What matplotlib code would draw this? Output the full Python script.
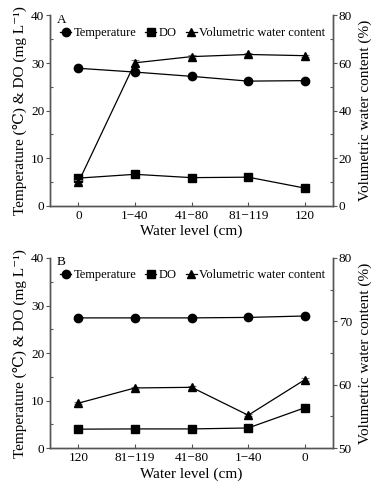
import matplotlib
matplotlib.use("Agg")
import matplotlib.pyplot as plt
from matplotlib.ticker import MultipleLocator
from matplotlib.lines import Line2D

plt.rcParams['font.family'] = ['Liberation Serif', 'DejaVu Serif']

cats_a = ["0", "1\u221240", "41\u221280", "81\u2212119", "120"]
temp_a = [28.9, 28.1, 27.2, 26.2, 26.3]
do_a = [5.8, 6.6, 5.9, 6.0, 3.7]
vwc_a = [9.8, 60.1, 62.7, 63.6, 63.1]
vwc_err_a = [0.8, 1.3, 0.5, 0.5, 0.4]

cats_b = ["120", "81\u2212119", "41\u221280", "1\u221240", "0"]
temp_b = [27.4, 27.4, 27.4, 27.5, 27.8]
do_b = [4.0, 4.05, 4.05, 4.25, 8.5]
vwc_b = [57.1, 59.5, 59.6, 55.2, 60.8]
vwc_err_b = [0.2, 0.2, 0.2, 0.2, 0.2]

W, H = 379, 484
fig = plt.figure(figsize=(W / 100, H / 100), dpi=100)

spine_col = '#555555'

def panel(rect, cats, temp, do, vwc, vwc_err, rlim, rstep, letter):
    ax = fig.add_axes(rect)
    x = list(range(len(cats)))
    ax2 = ax.twinx()
    h1, = ax.plot(x, temp, '-', color='black', lw=0.9, marker='o', ms=6)
    h2, = ax.plot(x, do, '-', color='black', lw=0.9, marker='s', ms=6)
    ax2.errorbar(x, vwc, yerr=vwc_err, fmt='-', color='black', lw=0.9, marker='^', ms=6,
                 ecolor='#777777', elinewidth=0.8, capsize=3, capthick=0.8)
    h3 = Line2D([], [], color='black', lw=0.9, marker='^', ms=6)
    ax.set_xlim(-0.5, 4.5)
    ax.set_ylim(0, 40)
    ax2.set_ylim(*rlim)
    ax.set_xticks(x)
    ax.set_xticklabels(cats)
    ax.yaxis.set_major_locator(MultipleLocator(10))
    ax.yaxis.set_minor_locator(MultipleLocator(5))
    ax2.yaxis.set_major_locator(MultipleLocator(rstep))
    ax2.yaxis.set_minor_locator(MultipleLocator(rstep / 2))
    for a in (ax, ax2):
        a.spines['top'].set_visible(False)
        for s in ('left', 'right', 'bottom'):
            a.spines[s].set_color(spine_col)
            a.spines[s].set_linewidth(1.0)
        a.tick_params(axis='y', which='major', direction='out', length=3, width=0.8,
                      color=spine_col, labelsize=9.5, pad=1)
        a.tick_params(axis='y', which='minor', direction='in', length=2, width=0.8, color=spine_col)
    ax.tick_params(axis='x', direction='in', length=3, width=0.8, color=spine_col, labelsize=9.5, pad=3)
    ax.set_xlabel('Water level (cm)', fontsize=11, labelpad=2)
    ax.set_ylabel('Temperature (\u2103) & DO (mg L\u207b\u00b9)', fontsize=11, labelpad=3)
    ax2.set_ylabel('Volumetric water content (%)', fontsize=11, labelpad=5)
    ax.text(0.025, 1.01, letter, transform=ax.transAxes, fontsize=9.5, va='top', ha='left')
    ax.legend([h1, h2, h3], ['Temperature', 'DO', 'Volumetric water content'],
              loc='upper left', bbox_to_anchor=(0.035, 0.94), ncol=3, frameon=False,
              fontsize=9, handlelength=0.9, handletextpad=0.2, columnspacing=0.7,
              borderaxespad=0, borderpad=0)
    return ax, ax2

panel([0.132, 0.575, 0.747, 0.393], cats_a, temp_a, do_a, vwc_a, vwc_err_a, (0, 80), 20, 'A')
panel([0.132, 0.074, 0.747, 0.393], cats_b, temp_b, do_b, vwc_b, vwc_err_b, (50, 80), 10, 'B')

fig.savefig('out.png', dpi=100)
